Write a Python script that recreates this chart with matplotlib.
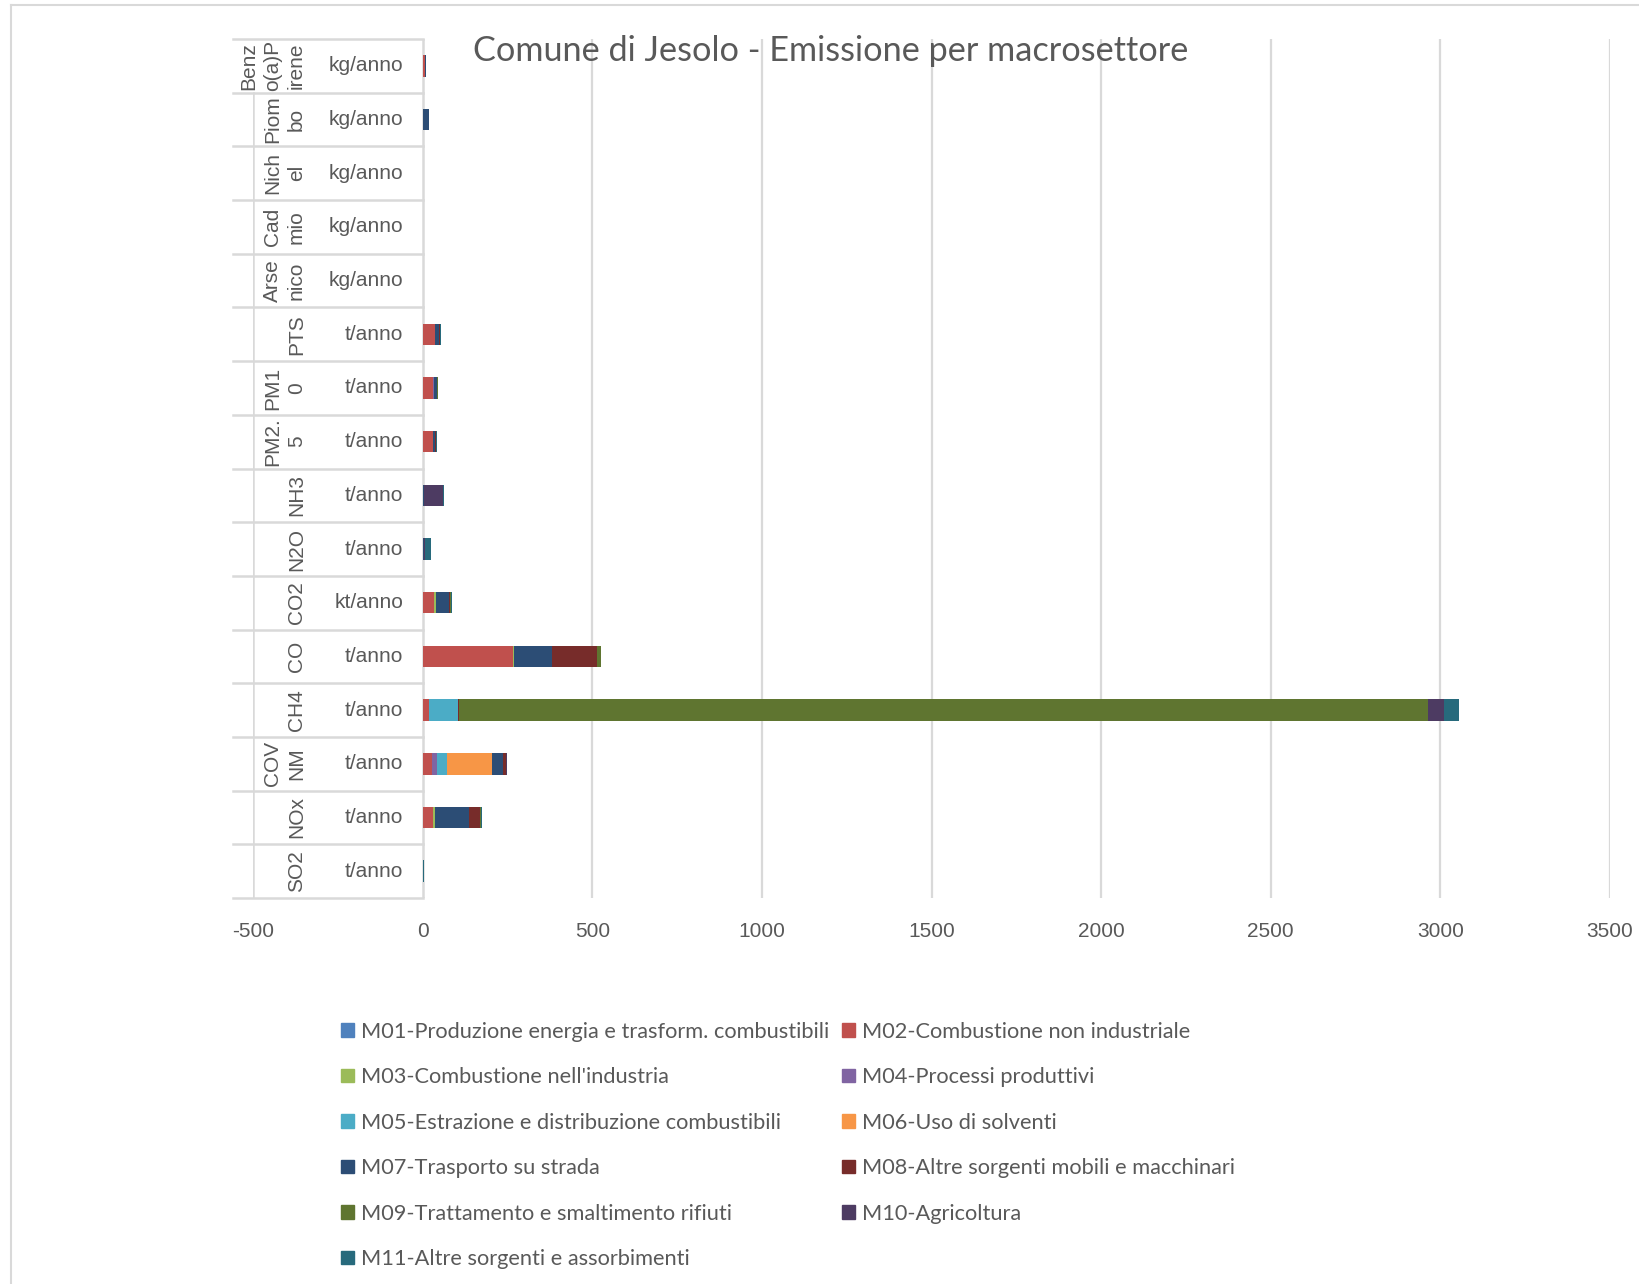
import matplotlib.pyplot as plt
from matplotlib.patches import Patch
from matplotlib.lines import Line2D
import numpy as np

plt.rcParams['axes.unicode_minus'] = False

# categories from bottom to top
pollutants = ['SO2', 'NOx', 'COV\nNM', 'CH4', 'CO', 'CO2', 'N2O', 'NH3', 'PM2.\n5', 'PM1\n0',
              'PTS', 'Arse\nnico', 'Cad\nmio', 'Nich\nel', 'Piom\nbo', 'Benz\no(a)P\nirene']
units = ['t/anno', 't/anno', 't/anno', 't/anno', 't/anno', 'kt/anno', 't/anno', 't/anno',
         't/anno', 't/anno', 't/anno', 'kg/anno', 'kg/anno', 'kg/anno', 'kg/anno', 'kg/anno']

sectors = ['M01-Produzione energia e trasform. combustibili', 'M02-Combustione non industriale',
           "M03-Combustione nell'industria", 'M04-Processi produttivi',
           'M05-Estrazione e distribuzione combustibili', 'M06-Uso di solventi',
           'M07-Trasporto su strada', 'M08-Altre sorgenti mobili e macchinari',
           'M09-Trattamento e smaltimento rifiuti', 'M10-Agricoltura',
           'M11-Altre sorgenti e assorbimenti']
colors = ['#4F81BD', '#C0504D', '#9BBB59', '#8064A2', '#4BACC6', '#F79646',
          '#2C4D75', '#772C2A', '#5F7530', '#4D3B62', '#276A7C']

#        SO2  NOx  COVNM CH4   CO   CO2  N2O  NH3  PM25 PM10 PTS  As   Cd   Ni   Pb   BaP
m01 = [0.1, 0.5, 0.2, 0.1, 0.5, 0.3, 0, 0, 0, 0, 0, 0, 0, 0, 0, 0]
m02 = [1.2, 30, 26, 17, 267, 34, 0.5, 2, 30, 31, 35, 0.3, 0.5, 0.5, 0.5, 8]
m03 = [0.4, 5, 1, 0.3, 1, 6, 1, 0, 0.5, 0.5, 0.5, 0, 0, 0.2, 0.5, 0]
m04 = [0, 0, 16, 0, 0, 0, 0, 0, 0, 1, 0, 0, 0, 0, 0, 0]
m05 = [0, 0, 27, 86, 0, 0, 0, 0, 0, 0, 0, 0, 0, 0, 0, 0]
m06 = [0, 0, 135, 0, 0, 0, 0, 0, 0, 1, 0, 0, 0, 0, 0, 0]
m07 = [0.2, 102, 31, 2, 113, 38, 1, 1, 7, 8, 13, 0.3, 0.5, 1, 17, 0.5]
m08 = [0.3, 32, 9, 0.5, 131, 3, 0.2, 0, 2, 2, 2, 0, 0, 0, 0, 0]
m09 = [0, 3, 1, 2857, 12, 3, 2, 0, 0.5, 0.5, 0.5, 0, 0, 0, 0.2, 0]
m10 = [0, 0, 1, 49, 0, 0.5, 1, 58, 0.5, 0.5, 0.5, 0, 0, 0, 0, 0]
m11 = [0.5, 1, 0.5, 43, 1, 0.5, 19, 0.5, 1, 1, 1, 0, 0, 0, 0, 0]
series = [m01, m02, m03, m04, m05, m06, m07, m08, m09, m10, m11]

title = 'Comune di Jesolo - Emissione per macrosettore'
grey_txt = '#595959'
grid_c = '#D9D9D9'

fig = plt.figure(figsize=(16.4, 12.84), dpi=100)
ax = fig.add_axes([253.1 / 1640, 1 - 898 / 1284, (1610 - 253.1) / 1640, (898 - 39) / 1284])

y = np.arange(len(pollutants))
left = np.zeros(len(pollutants))
for vals, c, name in zip(series, colors, sectors):
    vals = np.array(vals, dtype=float)
    ax.barh(y, vals, left=left, height=0.4, color=c, label=name, zorder=3)
    left += vals

ax.set_xlim(-500, 3500)
ax.set_ylim(-0.5, len(pollutants) - 0.5)
for s in ax.spines.values():
    s.set_visible(False)

# gridlines
for gx in range(500, 3501, 500):
    ax.axvline(gx, color=grid_c, lw=1.6, zorder=1)
ax.axvline(0, color=grid_c, lw=1.8, zorder=2)
ax.plot([-500, -500], [-0.5, len(pollutants) - 1.5], color=grid_c, lw=1.8, zorder=2)

# category table lines
for b in np.arange(-0.5, len(pollutants), 1.0):
    ax.plot([-559, 0], [b, b], color=grid_c, lw=1.8, clip_on=False, zorder=2)

for i, (p, u) in enumerate(zip(pollutants, units)):
    ax.text(-58, i, u, ha='right', va='center', fontsize=15, color=grey_txt,
            family='Liberation Sans', zorder=4)
    ax.text(-344, i, p, ha='right', va='center', rotation=90, fontsize=15,
            color=grey_txt, family='Liberation Sans', multialignment='center',
            linespacing=1.34, zorder=4)

ax.set_yticks([])
ax.set_xticks(range(-500, 3501, 500))
ax.tick_params(axis='x', length=0, pad=17, labelsize=15, labelcolor=grey_txt)
for lab in ax.get_xticklabels():
    lab.set_family('Liberation Sans')

fig.text(831 / 1640, 1 - 51 / 1284, title, ha='center', va='center',
         fontsize=24.7, color=grey_txt, family='Lato')

# chart border
fig.add_artist(Line2D([11 / 1640, 1], [1 - 5 / 1284, 1 - 5 / 1284], color=grid_c, lw=1.5))
fig.add_artist(Line2D([11 / 1640, 11 / 1640], [0, 1 - 5 / 1284], color=grid_c, lw=1.5))

# legend, row order like the reference
order = [0, 2, 4, 6, 8, 10, 1, 3, 5, 7, 9]
handles = [Patch(color=colors[k], label=sectors[k]) for k in order]
leg = fig.legend(handles=handles, ncol=2, loc='upper left',
                 bbox_to_anchor=(321 / 1640, 1 - 1002 / 1284), frameon=False,
                 prop={'family': 'Lato', 'size': 15.7}, labelcolor=grey_txt,
                 handlelength=0.6, handleheight=0.6, handletextpad=0.35,
                 labelspacing=1.17, columnspacing=0.55)

fig.savefig('out.png', dpi=100)
